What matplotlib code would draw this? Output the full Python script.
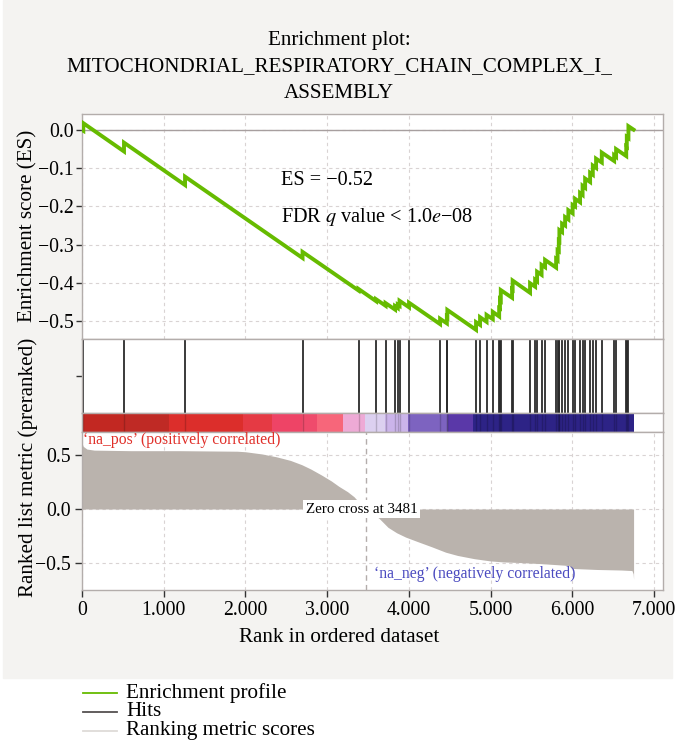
import matplotlib
matplotlib.use("Agg")
import matplotlib.pyplot as plt
from matplotlib.patches import Rectangle
from matplotlib.lines import Line2D

plt.rcParams['font.family'] = ['Liberation Serif', 'DejaVu Serif']
plt.rcParams['mathtext.fontset'] = 'stix'
plt.rcParams['axes.unicode_minus'] = True

# ---------------- data ----------------
title_lines = ["Enrichment plot:", "MITOCHONDRIAL_RESPIRATORY_CHAIN_COMPLEX_I_", "ASSEMBLY"]

# running enrichment score vertices (rank, ES)
es_rank = [0, 16, 16, 514, 514, 1261, 1261, 2699, 2699, 3384, 3384, 3599, 3599,
           3715, 3715, 3831, 3831, 3864, 3864, 3886, 3886, 4002, 4002, 4382, 4382,
           4465, 4465, 4471, 4471, 4822, 4822, 4871, 4871, 4951, 4951, 5027, 5027,
           5105, 5105, 5115, 5115, 5125, 5125, 5263, 5263, 5270, 5270, 5483, 5483,
           5545, 5545, 5569, 5569, 5624, 5624, 5667, 5667, 5802, 5802, 5820, 5820,
           5835, 5835, 5842, 5842, 5875, 5875, 5912, 5912, 5952, 5952, 6004, 6004,
           6034, 6034, 6095, 6095, 6126, 6126, 6157, 6157, 6218, 6218, 6251, 6251,
           6291, 6291, 6361, 6361, 6512, 6512, 6536, 6536, 6660, 6660, 6667, 6667,
           6687, 6687, 6750]
es_value = [0.000, -0.002, 0.018, -0.056, -0.033, -0.144, -0.122, -0.335, -0.319,
            -0.420, -0.416, -0.448, -0.443, -0.460, -0.453, -0.470, -0.461, -0.466,
            -0.457, -0.460, -0.447, -0.464, -0.452, -0.508, -0.494, -0.506, -0.489,
            -0.490, -0.471, -0.523, -0.503, -0.510, -0.490, -0.502, -0.484, -0.495,
            -0.476, -0.488, -0.466, -0.467, -0.444, -0.446, -0.419, -0.439, -0.417,
            -0.418, -0.394, -0.426, -0.401, -0.410, -0.392, -0.396, -0.371, -0.379,
            -0.353, -0.359, -0.340, -0.360, -0.338, -0.341, -0.315, -0.317, -0.290,
            -0.291, -0.262, -0.267, -0.245, -0.250, -0.228, -0.234, -0.210, -0.218,
            -0.196, -0.200, -0.180, -0.189, -0.165, -0.170, -0.146, -0.151, -0.127,
            -0.136, -0.112, -0.117, -0.093, -0.099, -0.075, -0.085, -0.059, -0.081,
            -0.066, -0.070, -0.050, -0.068, -0.043, -0.044, -0.018, -0.021, 0.010,
            0.001]

# gene-set hit positions (rank)
hits = [16, 514, 1261, 2699, 3384, 3599, 3715, 3831, 3864, 3886, 4002, 4382, 4465,
        4471, 4822, 4871, 4951, 5027, 5105, 5115, 5125, 5263, 5270, 5483, 5545, 5569,
        5624, 5667, 5802, 5820, 5835, 5842, 5875, 5912, 5952, 6004, 6034, 6095, 6126,
        6157, 6218, 6251, 6291, 6361, 6512, 6536, 6660, 6667, 6687]

# ranked list metric (rank, value)
metric_rank = [0, 15, 60, 150, 600, 1200, 1900, 2000, 2200, 2375, 2550, 2690, 2800,
               2930, 3050, 3143, 3250, 3328, 3405, 3460, 3481, 3481, 3500, 3560, 3640,
               3745, 3850, 3960, 4100, 4280, 4450, 4595, 4800, 4990, 5150, 5335, 5600,
               5900, 5960, 5990, 6300, 6600, 6730, 6745, 6750]
metric_value = [0.61, 0.58, 0.555, 0.545, 0.54, 0.54, 0.535, 0.53, 0.51, 0.484, 0.45,
                0.41, 0.37, 0.315, 0.26, 0.21, 0.16, 0.114, 0.05, 0.01, 0.0, 0.0, -0.01,
                -0.04, -0.09, -0.17, -0.22, -0.26, -0.30, -0.35, -0.40, -0.43, -0.46,
                -0.48, -0.49, -0.495, -0.505, -0.52, -0.525, -0.55, -0.56, -0.565,
                -0.57, -0.60, -0.65]

# colour bar segments (rank boundaries and colours)
cbar_edges = [0, 514, 1068, 1970, 2325, 2690, 2873, 3191, 3464, 3709, 3994, 4484, 4782, 6750]
cbar_colors = ['#c22822', '#bf2a25', '#dc2e2b', '#e53a44', '#ee4466', '#ef4b6c',
               '#f7667a', '#eeaad6', '#dcd0f0', '#cbb4ea', '#7d63c0', '#5a38a8', '#2d2386']

zero_cross = 3481
x_ticks = [0, 1000, 2000, 3000, 4000, 5000, 6000, 7000]
x_ticklabels = ['0', '1.000', '2.000', '3.000', '4.000', '5.000', '6.000', '7.000']
es_ticks = [0.0, -0.1, -0.2, -0.3, -0.4, -0.5]
es_ticklabels = ['0.0', '\u22120.1', '\u22120.2', '\u22120.3', '\u22120.4', '\u22120.5']
rk_ticks = [0.5, 0.0, -0.5]
rk_ticklabels = ['0.5', '0.0', '\u22120.5']

# ---------------- figure ----------------
W, H = 678, 744
fig = plt.figure(figsize=(W / 100, H / 100), dpi=100)
fig.patch.set_facecolor('white')
fig.add_artist(Rectangle((3 / W, 1 - 678 / H), 669 / W, 678 / H,
                         transform=fig.transFigure, color='#f4f3f1', zorder=-10))


def px_axes(l, t, r, b):
    return fig.add_axes([l / W, 1 - b / H, (r - l) / W, (b - t) / H])


XMAX = 7110
spine_c = '#b3adab'
grid_kw = dict(color='#d9d3d3', lw=0.8, linestyle=(0, (3, 3)))
FS = 15.2     # titles / axis labels / legend
FT = 14.2     # tick labels
FA = 14.6     # annotations

ax_es = px_axes(82, 114, 663, 339)
ax_hits = px_axes(82, 339, 663, 413)
ax_cb = px_axes(82, 413, 663, 432)
ax_rk = px_axes(82, 432, 663, 590)

for ax in (ax_es, ax_hits, ax_cb, ax_rk):
    ax.set_xlim(0, XMAX)
    ax.set_facecolor('white')
    for s in ax.spines.values():
        s.set_color(spine_c)
        s.set_linewidth(1.0)

# ES panel
ax_es.set_ylim(-0.547, 0.042)
ax_es.set_xticks(x_ticks)
ax_es.tick_params(axis='x', length=0, labelbottom=False)
ax_es.set_yticks(es_ticks)
ax_es.set_yticklabels(es_ticklabels, fontsize=FT)
ax_es.tick_params(axis='y', length=4, width=1, color='#333333', pad=2)
ax_es.grid(True, **grid_kw)
ax_es.set_axisbelow(True)
ax_es.axhline(0, color='#a79f9f', lw=1.0, zorder=1)
ax_es.plot(es_rank, es_value, color='#66bb00', lw=2.8, zorder=3, solid_joinstyle='miter')
ax_es.text(2436, -0.131, 'ES = \u22120.52', fontsize=FA, va='center', ha='left')
ax_es.text(2436, -0.228, 'FDR $q$ value < 1.0$e$\u221208', fontsize=FA, va='center', ha='left')

# hits panel
ax_hits.set_ylim(0, 1)
ax_hits.vlines(hits, 0, 1, color='#2b2b2b', lw=1.3)
ax_hits.set_xticks(x_ticks)
ax_hits.tick_params(axis='x', length=0, labelbottom=False)
ax_hits.set_yticks([0.5])
ax_hits.set_yticklabels([''])
ax_hits.tick_params(axis='y', length=4, width=1, color='#333333')

# colour bar
ax_cb.set_ylim(0, 1)
lefts = cbar_edges[:-1]
widths = [cbar_edges[i + 1] - cbar_edges[i] for i in range(len(lefts))]
ax_cb.bar(lefts, [1] * len(lefts), width=widths, align='edge', color=cbar_colors, lw=0)
ax_cb.vlines(hits, 0, 1, color='#000000', lw=1.0, alpha=0.18)
ax_cb.set_xticks([])
ax_cb.set_yticks([])

# ranked metric panel
ax_rk.set_ylim(-0.75, 0.713)
ax_rk.fill_between(metric_rank, metric_value, 0, color='#bab3ad', lw=0, zorder=2)
ax_rk.set_xticks(x_ticks)
ax_rk.set_xticklabels(x_ticklabels, fontsize=FT)
ax_rk.set_yticks(rk_ticks)
ax_rk.set_yticklabels(rk_ticklabels, fontsize=FT)
ax_rk.tick_params(axis='both', length=5, width=1, color='#333333', pad=3)
ax_rk.grid(True, **grid_kw)
ax_rk.set_axisbelow(True)
ax_rk.axvline(zero_cross, color='#b3adab', lw=1.0, linestyle=(0, (4, 3)), zorder=3)
ax_rk.text(3420, 0.0, 'Zero cross at %d' % zero_cross, fontsize=10.8, ha='center', va='center',
           zorder=5, bbox=dict(facecolor='white', edgecolor='none', pad=2))
ax_rk.text(10, 0.64, '\u2018na_pos\u2019 (positively correlated)', color='#e0302a',
           fontsize=11.3, ha='left', va='center', zorder=5)
ax_rk.text(6040, -0.60, '\u2018na_neg\u2019 (negatively correlated)', color='#4b4bc0',
           fontsize=11.3, ha='right', va='center', zorder=5)

# titles and labels
for line, y in zip(title_lines, [40, 67, 93]):
    fig.text(0.5, 1 - y / H, line, ha='center', va='center', fontsize=FS)
fig.text(28 / W, 1 - 226 / H, 'Enrichment score (ES)', rotation=90, ha='center', va='center', fontsize=FS)
fig.text(28 / W, 1 - 467 / H, 'Ranked list metric (preranked)', rotation=90, ha='center', va='center', fontsize=FS)
fig.text(0.5, 1 - 637 / H, 'Rank in ordered dataset', ha='center', va='center', fontsize=FS)

# legend
legend_items = [('Enrichment profile', '#66bb00'), ('Hits', '#555050'), ('Ranking metric scores', '#dedbd8')]
for (lab, col), y in zip(legend_items, [693, 712, 731]):
    fig.add_artist(Line2D([83 / W, 117 / W], [1 - y / H, 1 - y / H], color=col, lw=1.3,
                          transform=fig.transFigure))
    fig.text(126 / W, 1 - y / H, lab, ha='left', va='center', fontsize=FS)

fig.savefig('out.png', dpi=100)
